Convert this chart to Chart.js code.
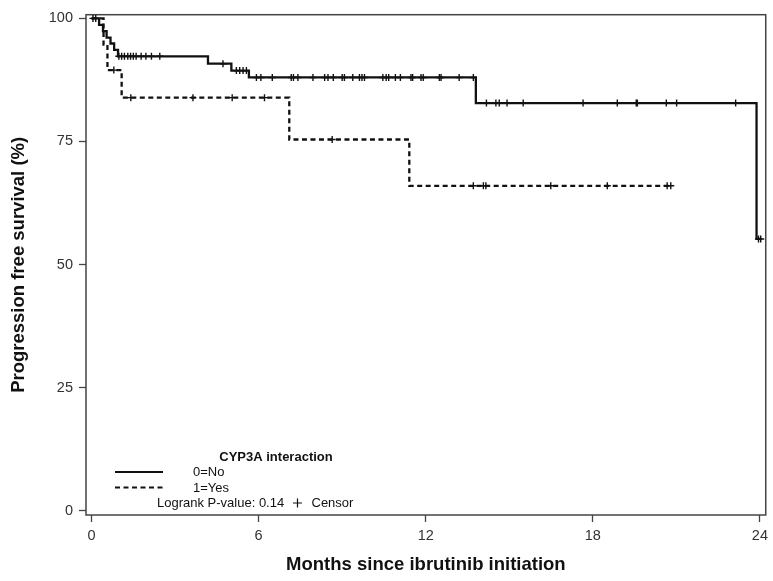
<!DOCTYPE html>
<html>
<head>
<meta charset="utf-8">
<title>Progression free survival by CYP3A interaction</title>
<script src="https://cdn.jsdelivr.net/npm/chart.js@4/dist/chart.umd.min.js"></script>
<style>
  html, body { margin: 0; padding: 0; background: #fff; }
  #wrap { width: 773px; height: 581px; }
</style>
</head>
<body>
<div id="wrap"><canvas id="km" width="773" height="581"></canvas></div>
<script>
// Kaplan-Meier steps (months, % progression free)
const noTimes = [0, 0.27, 0.41, 0.54, 0.68, 0.81, 0.95, 4.18, 5.02, 5.65, 13.8, 23.88, 24.03];
const noSurv = [100, 98.7, 97.4, 96.1, 94.9, 93.6, 92.3, 90.8, 89.4, 88.0, 82.8, 55.2, 55.2];
const noCensor = [
  0.05, 0.15, 0.98, 1.08, 1.18, 1.3, 1.4, 1.5, 1.6, 1.78, 1.95, 2.15, 2.45,
  4.72, 5.2, 5.32, 5.44, 5.56, 5.92, 6.08, 6.49, 7.17, 7.25, 7.41, 7.95, 8.37, 8.49, 8.68,
  9.0, 9.08, 9.38, 9.62, 9.71, 9.8, 10.46, 10.58, 10.67, 10.91, 11.09, 11.47, 11.53,
  11.83, 11.91, 12.49, 12.55, 13.2, 13.71, 14.18, 14.52, 14.64, 14.92, 15.5,
  17.65, 18.88, 19.56, 19.6, 20.64, 21.01, 23.13, 23.95, 24.03
];

const yesTimes = [0, 0.43, 0.57, 1.08, 7.1, 11.41, 20.8];
const yesSurv = [100, 94.7, 89.5, 83.9, 75.4, 66.0, 66.0];
const yesCensor = [0.8, 1.41, 3.64, 5.05, 6.21, 8.64, 13.71, 14.07, 14.16, 16.49, 18.52, 20.67, 20.8];

const xTicks = [0, 6, 12, 18, 24];
const yTicks = [0, 25, 50, 75, 100];

const groupLabels = ["0=No", "1=Yes"];
const legendTitle = "CYP3A interaction";
const pValueText = "Logrank P-value: 0.14";
const censorText = "Censor";

// survival value of a step curve at time t (last step at or before t)
function survAt(times, surv, t) {
  let v = surv[0];
  for (let i = 0; i < times.length; i++) {
    if (times[i] <= t) v = surv[i];
  }
  return v;
}

const curve = (times, surv) => times.map((t, i) => ({ x: t, y: surv[i] }));
const marks = (cens, times, surv) => cens.map((t) => ({ x: t, y: survAt(times, surv, t) }));

const INK = "#111";
const FRAME = "#444";
const SANS = "'Liberation Sans', Arial, sans-serif";

// white page, box frame round the plot area
const framePlugin = {
  id: "frame",
  beforeDraw(chart) {
    const { ctx } = chart;
    ctx.save();
    ctx.fillStyle = "#fff";
    ctx.fillRect(0, 0, chart.width, chart.height);
    ctx.restore();
  },
  beforeDatasetsDraw(chart) {
    const { ctx, chartArea: a } = chart;
    ctx.save();
    ctx.strokeStyle = FRAME;
    ctx.lineWidth = 1.5;
    ctx.strokeRect(a.left, a.top, a.right - a.left, a.bottom - a.top);
    ctx.restore();
  },
};

// SAS-style inset legend at the bottom left
const insetLegend = {
  id: "insetLegend",
  afterDraw(chart) {
    const { ctx } = chart;
    ctx.save();
    ctx.fillStyle = INK;
    ctx.textBaseline = "middle";

    ctx.font = "bold 13px " + SANS;
    ctx.textAlign = "center";
    ctx.fillText(legendTitle, 276, 457);

    ctx.strokeStyle = INK;
    ctx.lineWidth = 2.2;
    ctx.beginPath();
    ctx.moveTo(115, 472);
    ctx.lineTo(163, 472);
    ctx.stroke();
    ctx.setLineDash([5, 3.5]);
    ctx.beginPath();
    ctx.moveTo(115, 487.5);
    ctx.lineTo(163, 487.5);
    ctx.stroke();
    ctx.setLineDash([]);

    ctx.font = "13px " + SANS;
    ctx.textAlign = "left";
    ctx.fillText(groupLabels[0], 193, 472);
    ctx.fillText(groupLabels[1], 193, 488);
    ctx.fillText(pValueText, 157, 503);

    // censor symbol
    ctx.lineWidth = 1.2;
    ctx.beginPath();
    ctx.moveTo(293, 503);
    ctx.lineTo(302, 503);
    ctx.moveTo(297.5, 498.5);
    ctx.lineTo(297.5, 507.5);
    ctx.stroke();
    ctx.fillText(censorText, 311.5, 503);
    ctx.restore();
  },
};

new Chart(document.getElementById("km"), {
  type: "line",
  data: {
    datasets: [
      {
        label: groupLabels[0],
        data: curve(noTimes, noSurv),
        borderColor: INK,
        borderWidth: 2.3,
        stepped: true,
        pointRadius: 0,
        fill: false,
      },
      {
        label: groupLabels[1],
        data: curve(yesTimes, yesSurv),
        borderColor: INK,
        borderWidth: 2.3,
        borderDash: [5, 3.5],
        stepped: true,
        pointRadius: 0,
        fill: false,
      },
      {
        type: "scatter",
        label: "Censor 0",
        data: marks(noCensor, noTimes, noSurv),
        pointStyle: "cross",
        pointRadius: 3.5,
        borderColor: INK,
        borderWidth: 1.4,
        showLine: false,
      },
      {
        type: "scatter",
        label: "Censor 1",
        data: marks(yesCensor, yesTimes, yesSurv),
        pointStyle: "cross",
        pointRadius: 3.5,
        borderColor: INK,
        borderWidth: 1.4,
        showLine: false,
      },
    ],
  },
  options: {
    responsive: false,
    animation: false,
    devicePixelRatio: 1,
    layout: { padding: { top: 12, right: 6, left: 0, bottom: 0 } },
    plugins: {
      legend: { display: false },
      tooltip: { enabled: false },
    },
    scales: {
      x: {
        type: "linear",
        min: -0.2,
        max: 24.21,
        afterBuildTicks: (s) => { s.ticks = xTicks.map((v) => ({ value: v })); },
        afterFit: (s) => { s.height = 66; },
        border: { display: false },
        grid: { drawOnChartArea: false, drawTicks: true, tickLength: 7, tickColor: FRAME, tickWidth: 1.3 },
        ticks: { color: "#333", padding: 5, font: { family: SANS, size: 14.5 }, maxRotation: 0 },
        title: {
          display: true,
          text: "Months since ibrutinib initiation",
          color: INK,
          font: { family: SANS, size: 18.5, weight: "bold" },
          padding: { top: 0, bottom: 5 },
        },
      },
      y: {
        type: "linear",
        min: -0.87,
        max: 100.75,
        afterBuildTicks: (s) => { s.ticks = yTicks.map((v) => ({ value: v })); },
        afterFit: (s) => { s.width = 86; },
        border: { display: false },
        grid: { drawOnChartArea: false, drawTicks: true, tickLength: 7, tickColor: FRAME, tickWidth: 1.3 },
        ticks: { color: "#333", padding: 6, font: { family: SANS, size: 14.5 } },
        title: {
          display: true,
          text: "Progression free survival (%)",
          color: INK,
          font: { family: SANS, size: 18.5, weight: "bold" },
          padding: { top: 8, bottom: 0 },
        },
      },
    },
  },
  plugins: [framePlugin, insetLegend],
});
</script>
</body>
</html>
